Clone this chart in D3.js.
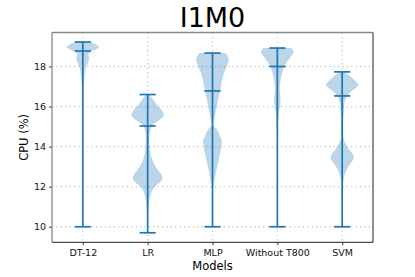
<!DOCTYPE html>
<html>
<head>
<meta charset="utf-8">
<script src="https://cdn.jsdelivr.net/npm/d3@7"></script>
<style>
  html, body { margin: 0; padding: 0; background: #fff; }
  svg { display: block; font-family: "DejaVu Sans", sans-serif; }
</style>
</head>
<body>
<svg id="chart" width="415" height="277"></svg>
<script>
// ── Data ─────────────────────────────────────────────────────────────────────
const categories = ['DT-12', 'LR', 'MLP', 'Without T800', 'SVM'];
const mins    = [10.0, 9.7, 10.0, 10.0, 10.0];
const maxes   = [19.22, 16.6, 18.67, 18.92, 17.73];
const medians = [18.77, 15.03, 16.78, 18.0, 16.53];
const yTicks  = [10, 12, 14, 16, 18];

// violin outlines: [CPU value, relative half-width (1 = widest)]
const dt12Profile = [
  [19.22, 0.45], [19.1, 0.8], [18.97, 1.0], [18.85, 0.8], [18.75, 0.5],
  [18.6, 0.34], [18.42, 0.4], [18.17, 0.3], [17.92, 0.18], [17.58, 0.12],
  [17.08, 0.06], [16.5, 0.03], [15.5, 0.01], [10.0, 0.0]
];
const lrProfile = [
  [16.6, 0.08], [16.4, 0.3], [16.1, 0.55], [15.83, 0.86], [15.58, 1.0],
  [15.4, 0.85], [15.25, 0.6], [15.05, 0.28], [14.6, 0.12], [14.1, 0.12],
  [13.75, 0.16], [13.3, 0.3], [12.85, 0.62], [12.6, 0.85], [12.45, 0.92],
  [12.25, 0.8], [12.05, 0.5], [11.75, 0.25], [11.25, 0.1], [10.5, 0.03], [9.7, 0.0]
];
const mlpProfile = [
  [18.67, 0.82], [18.5, 0.95], [18.33, 1.0], [18.0, 0.88], [17.6, 0.68],
  [17.2, 0.56], [16.8, 0.48], [16.4, 0.36], [15.92, 0.25], [15.5, 0.14],
  [15.05, 0.06], [14.83, 0.3], [14.5, 0.48], [14.25, 0.58], [13.92, 0.53],
  [13.5, 0.42], [12.75, 0.22], [12.17, 0.09], [11.83, 0.03], [11.0, 0.01], [10.0, 0.0]
];
const wt800Profile = [
  [18.92, 0.85], [18.8, 0.97], [18.67, 1.0], [18.5, 0.85], [18.3, 0.65],
  [18.0, 0.45], [17.75, 0.32], [17.5, 0.25], [17.0, 0.15], [16.6, 0.17],
  [16.2, 0.2], [15.8, 0.12], [15.33, 0.06], [14.5, 0.02], [13.0, 0.01], [10.0, 0.0]
];
const svmProfile = [
  [17.73, 0.12], [17.55, 0.45], [17.4, 0.65], [17.25, 0.85], [17.08, 1.0],
  [16.9, 0.8], [16.75, 0.55], [16.5, 0.28], [16.2, 0.15], [15.83, 0.1],
  [15.0, 0.06], [14.4, 0.09], [14.15, 0.2], [13.85, 0.42], [13.58, 0.68],
  [13.45, 0.72], [13.2, 0.55], [13.0, 0.37], [12.67, 0.18], [12.17, 0.06],
  [11.5, 0.02], [10.0, 0.0]
];
const profiles = [dt12Profile, lrProfile, mlpProfile, wt800Profile, svmProfile];

// ── Layout ───────────────────────────────────────────────────────────────────
const plot = { left: 52, right: 373, top: 32.5, bottom: 242.3 };
const C0 = '#1f77b4';
const halfWidth = 0.25;   // widest violin half-width, in x units
const capHalf = 0.125;

const svg = d3.select('#chart');

const x = d3.scaleLinear().domain([0.525, 5.475]).range([plot.left, plot.right]);
const y = d3.scaleLinear().domain([9.224, 19.696]).range([plot.bottom, plot.top]);
const positions = categories.map((d, i) => i + 1);

// grid
const grid = svg.append('g').attr('class', 'grid')
  .attr('stroke', '#c8c8c8').attr('stroke-width', 1.3)
  .attr('stroke-dasharray', '1.3,3.1');
grid.selectAll('line.h').data(yTicks).join('line').attr('class', 'h')
  .attr('x1', plot.left).attr('x2', plot.right)
  .attr('y1', d => y(d)).attr('y2', d => y(d));
grid.selectAll('line.v').data(positions).join('line').attr('class', 'v')
  .attr('y1', plot.top).attr('y2', plot.bottom)
  .attr('x1', d => x(d)).attr('x2', d => x(d));

// violin bodies
const bodies = svg.append('g').attr('class', 'bodies');
profiles.forEach((prof, i) => {
  const pos = positions[i];
  const area = d3.area()
    .y(d => y(d[0]))
    .x0(d => x(pos - d[1] * halfWidth))
    .x1(d => x(pos + d[1] * halfWidth))
    .curve(d3.curveCatmullRom.alpha(0.5));
  bodies.append('path')
    .attr('d', area(prof))
    .attr('fill', C0)
    .attr('fill-opacity', 0.3)
    .attr('stroke', 'none');
});

// bars, caps and medians
const stats = svg.append('g').attr('class', 'stats')
  .attr('stroke', C0).attr('stroke-width', 1.7);
positions.forEach((pos, i) => {
  stats.append('line')
    .attr('x1', x(pos)).attr('x2', x(pos))
    .attr('y1', y(mins[i])).attr('y2', y(maxes[i]));
  [mins[i], maxes[i], medians[i]].forEach(v => {
    stats.append('line')
      .attr('x1', x(pos - capHalf)).attr('x2', x(pos + capHalf))
      .attr('y1', y(v)).attr('y2', y(v));
  });
});

// axes
const yAxis = d3.axisLeft(y).tickValues(yTicks).tickSize(3).tickPadding(3);
const xAxis = d3.axisBottom(x).tickValues(positions)
  .tickFormat((d, i) => categories[i]).tickSize(3).tickPadding(4);

const gy = svg.append('g').attr('transform', `translate(${plot.left},0)`).call(yAxis);
const gx = svg.append('g').attr('transform', `translate(0,${plot.bottom})`).call(xAxis);
[gx, gy].forEach(g => {
  g.select('.domain').remove();
  g.selectAll('.tick line').attr('stroke', '#222').attr('stroke-width', 0.9);
  g.selectAll('.tick text').attr('fill', '#111')
    .style('font-size', '9.5px').style('font-family', '"DejaVu Sans", sans-serif');
});

// frame
const frame = svg.append('g').attr('fill', 'none');
frame.append('line').attr('x1', plot.left).attr('x2', plot.right)
  .attr('y1', plot.top).attr('y2', plot.top).attr('stroke', '#888').attr('stroke-width', 1.3);
frame.append('line').attr('x1', plot.left).attr('x2', plot.left)
  .attr('y1', plot.top).attr('y2', plot.bottom).attr('stroke', '#888').attr('stroke-width', 1.3);
frame.append('line').attr('x1', plot.left).attr('x2', plot.right)
  .attr('y1', plot.bottom).attr('y2', plot.bottom).attr('stroke', '#222').attr('stroke-width', 1);
frame.append('line').attr('x1', plot.right).attr('x2', plot.right)
  .attr('y1', plot.top).attr('y2', plot.bottom).attr('stroke', '#222').attr('stroke-width', 1);

// labels
svg.append('text')
  .attr('x', (plot.left + plot.right) / 2).attr('y', 26.7)
  .attr('text-anchor', 'middle')
  .style('font-size', '27px').attr('fill', '#000')
  .text('I1M0');

svg.append('text')
  .attr('x', (plot.left + plot.right) / 2).attr('y', 270)
  .attr('text-anchor', 'middle')
  .style('font-size', '11.5px').attr('fill', '#000')
  .text('Models');

svg.append('text')
  .attr('transform', `translate(27.5,${(plot.top + plot.bottom) / 2}) rotate(-90)`)
  .attr('text-anchor', 'middle')
  .style('font-size', '11.5px').attr('fill', '#000')
  .text('CPU (%)');
</script>
</body>
</html>
